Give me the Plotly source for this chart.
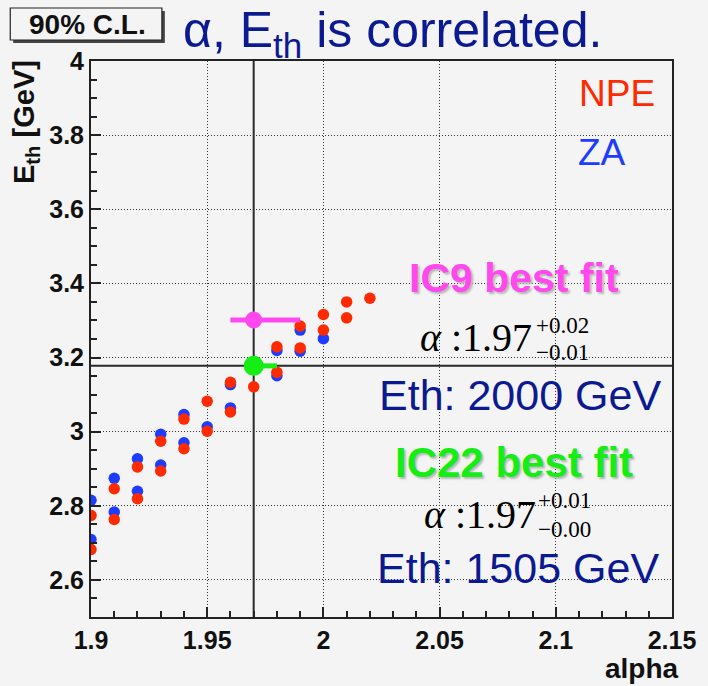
import math
import plotly.graph_objects as go

# ---------------------------------------------------------------- data
# NPE-based scan (alpha, log10 Eth)
npe_alpha = [1.90, 1.90, 1.91, 1.91, 1.92, 1.92, 1.93, 1.93, 1.94, 1.94,
             1.95, 1.95, 1.96, 1.96, 1.97, 1.98, 1.98, 1.99, 1.99, 2.00,
             2.00, 2.01, 2.01, 2.02]
npe_eth = [2.774, 2.682, 2.846, 2.763, 2.905, 2.819, 2.974, 2.894, 3.034, 2.954,
           3.082, 3.001, 3.133, 3.053, 3.121, 3.229, 3.160, 3.285, 3.226, 3.316,
           3.274, 3.350, 3.307, 3.360]

# ZA-based scan
za_alpha = [1.90, 1.90, 1.91, 1.91, 1.92, 1.92, 1.93, 1.93, 1.94, 1.94,
            1.95, 1.96, 1.96, 1.98, 1.98, 1.99, 1.99, 2.00]
za_eth = [2.815, 2.709, 2.874, 2.783, 2.927, 2.839, 2.993, 2.910, 3.046, 2.970,
          3.013, 3.127, 3.064, 3.219, 3.151, 3.274, 3.217, 3.251]

# best fits: alpha, +err, -err, Eth [GeV]
ic9_alpha, ic9_plus, ic9_minus, ic9_eth_gev = 1.97, 0.02, 0.01, 2000
ic22_alpha, ic22_plus, ic22_minus, ic22_eth_gev = 1.97, 0.01, 0.00, 1505

x_ticks = [1.9, 1.95, 2.0, 2.05, 2.1, 2.15]
x_tick_labels = ["1.9", "1.95", "2", "2.05", "2.1", "2.15"]
y_ticks = [2.6, 2.8, 3.0, 3.2, 3.4, 3.6, 3.8, 4.0]
y_tick_labels = ["2.6", "2.8", "3", "3.2", "3.4", "3.6", "3.8", "4"]

x_range = [1.9, 2.15]
y_range = [2.5, 4.0]

# ---------------------------------------------------------------- styling
W, H = 708, 686
L, R, T, B = 91, 681, 61, 617
BG = "#f4f4f4"
RED = "#ff2a00"
BLUE = "#1e3cff"
PINK = "#ff48ee"
GREEN = "#14ee14"
NAVY = "#0c1a92"
SANS = "Liberation Sans, Arial, sans-serif"
SERIF = "Liberation Serif, Times New Roman, serif"


def px(x):
    return (x - L) / (R - L)


def py(y):
    return (B - y) / (B - T)


ic9_logE = math.log10(ic9_eth_gev)
ic22_logE = math.log10(ic22_eth_gev)

fig = go.Figure()

# reference lines through the IC22 best fit
fig.add_trace(go.Scatter(x=[ic22_alpha, ic22_alpha], y=y_range, mode="lines",
                         line=dict(color="#2a2a2a", width=2), showlegend=False,
                         hoverinfo="skip"))
fig.add_trace(go.Scatter(x=x_range, y=[ic22_logE, ic22_logE], mode="lines",
                         line=dict(color="#2a2a2a", width=2), showlegend=False,
                         hoverinfo="skip"))

fig.add_trace(go.Scatter(x=za_alpha, y=za_eth, mode="markers", name="ZA",
                         marker=dict(color=BLUE, size=11.5, line=dict(width=0)),
                         showlegend=False))
fig.add_trace(go.Scatter(x=npe_alpha, y=npe_eth, mode="markers", name="NPE",
                         marker=dict(color=RED, size=11.5, line=dict(width=0)),
                         showlegend=False))

fig.add_trace(go.Scatter(
    x=[ic9_alpha], y=[ic9_logE], mode="markers", showlegend=False,
    marker=dict(color=PINK, size=17),
    error_x=dict(type="data", symmetric=False, array=[ic9_plus],
                 arrayminus=[ic9_minus], color=PINK, thickness=5, width=0)))
fig.add_trace(go.Scatter(
    x=[ic22_alpha], y=[ic22_logE], mode="markers", showlegend=False,
    marker=dict(color=GREEN, size=20),
    error_x=dict(type="data", symmetric=False, array=[ic22_plus],
                 arrayminus=[ic22_minus], color=GREEN, thickness=5, width=0)))

axis_common = dict(
    showline=True, mirror=True, linewidth=2, linecolor="#222222",
    ticks="inside", ticklen=10, tickwidth=1.5, tickcolor="#222222",
    showgrid=True, gridcolor="#333333", gridwidth=1, griddash="1px,2px",
    zeroline=False,
    tickfont=dict(family=SANS, size=25, color="#111111", weight="bold"),
)

fig.update_xaxes(range=x_range, tickvals=x_ticks, ticktext=x_tick_labels,
                 minor=dict(ticks="inside", ticklen=6, tickwidth=1.5,
                            tickcolor="#222222", tick0=1.9, dtick=0.01,
                            showgrid=False),
                 **axis_common)
fig.update_yaxes(range=y_range, tickvals=y_ticks, ticktext=y_tick_labels,
                 minor=dict(ticks="inside", ticklen=6, tickwidth=1.5,
                            tickcolor="#222222", tick0=2.5, dtick=0.05,
                            showgrid=False),
                 **axis_common)

ann = []


def text(s, x, y, size, color, family=SANS, bold=False, xanchor="left",
         yanchor="middle", angle=0, shadow=None):
    font = dict(family=family, size=size, color=color)
    if bold:
        font["weight"] = "bold"
    if shadow:
        font["shadow"] = shadow
    ann.append(dict(text=s, x=px(x), y=py(y), xref="paper", yref="paper",
                    xanchor=xanchor, yanchor=yanchor, showarrow=False,
                    textangle=angle, font=font))


# title and axis titles
text("α, E<sub>th</sub> is correlated.", 182, 33, 50, NAVY)
text("E<sub>th</sub> [GeV]", 25, 122, 29, "#111111", bold=True,
     xanchor="center", angle=-90)
text("alpha", 690, 668, 28, "#111111", bold=True, xanchor="right")
text("90% C.L.", 87, 25, 28, "#111111", bold=True, xanchor="center")

# legend-like labels
text("NPE", 585, 94, 37, RED)
text("ZA", 584, 152, 37, BLUE)

# IC9 block
text("IC9 best fit", 412, 278, 41, PINK, bold=True,
     shadow="2px 2px 2px #b8b8b8")
text("<i>α</i> :1.97", 423, 337, 40, "#000000", family=SERIF)
text("+0.02", 541, 325, 23, "#000000", family=SERIF)
text("−0.01", 541, 352, 23, "#000000", family=SERIF)
text("Eth: 2000 GeV", 381, 395, 43, NAVY)

# IC22 block
text("IC22 best fit", 398, 463, 42, GREEN, bold=True,
     shadow="2px 2px 2px #b8b8b8")
text("<i>α</i> :1.97", 427, 514, 40, "#000000", family=SERIF)
text("+0.01", 543, 500, 23, "#000000", family=SERIF)
text("−0.00", 543, 529, 23, "#000000", family=SERIF)
text("Eth: 1505 GeV", 379, 568, 43, NAVY)

shapes = [
    # box with drop shadow around the confidence-level tag
    dict(type="rect", xref="paper", yref="paper", x0=px(12), x1=px(166),
         y0=py(43), y1=py(11), fillcolor="#444444", line=dict(width=0),
         layer="above"),
    dict(type="rect", xref="paper", yref="paper", x0=px(9), x1=px(163),
         y0=py(40), y1=py(8), fillcolor=BG, line=dict(color="#222222", width=1.2),
         layer="above"),
]

fig.update_layout(
    width=W, height=H, autosize=False,
    margin=dict(l=L, r=W - R, t=T, b=H - B, pad=0),
    paper_bgcolor=BG, plot_bgcolor=BG,
    annotations=ann, shapes=shapes, showlegend=False,
)

fig.write_html("out.html")
